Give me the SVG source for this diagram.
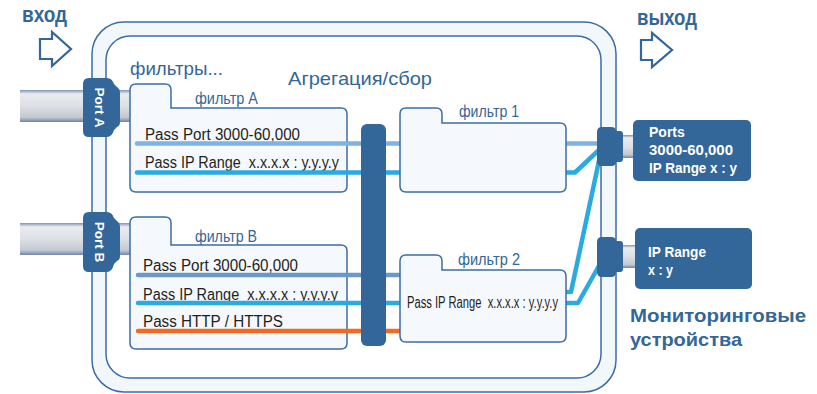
<svg xmlns="http://www.w3.org/2000/svg" width="817" height="394" viewBox="0 0 817 394">
<defs>
<linearGradient id="cable" x1="0" y1="0" x2="0" y2="1">
<stop offset="0" stop-color="#7d94b3"/>
<stop offset="0.12" stop-color="#e9ebef"/>
<stop offset="0.5" stop-color="#dde0e4"/>
<stop offset="0.85" stop-color="#c3c9d2"/>
<stop offset="1" stop-color="#6d86a8"/>
</linearGradient>
<style>
.lbl{font-family:"Liberation Sans",Arial,sans-serif;fill:#336699}
.pass{font-family:"Liberation Sans",Arial,sans-serif;font-size:16px;fill:#231f20;white-space:pre}
.wt{font-family:"Liberation Sans",Arial,sans-serif;font-weight:bold;fill:#fff}
.fold{fill:#f5f9fd;stroke:#3a6ea5;stroke-width:1.5}
.dk{fill:#336699}
.ln{fill:none;stroke-width:4.5;stroke-linecap:round;stroke-linejoin:round}
.arrow{fill:#fff;stroke:#336699;stroke-width:2.2;stroke-linejoin:miter}
</style>
</defs>

<g id="frame">
<rect x="92" y="22" width="524" height="370" rx="32" fill="#f2f7fc" stroke="#3a6ea5" stroke-width="1.5"/>
<rect x="106" y="36" width="495" height="342" rx="24" fill="#fff" stroke="#3a6ea5" stroke-width="1.5"/>
</g>

<g id="titles">
<text class="lbl" x="22" y="22" font-size="22" font-weight="bold" textLength="45" lengthAdjust="spacingAndGlyphs">вход</text>
<polygon class="arrow" points="40,39 52,39 52,32 71,49 52,66 52,59 40,59"/>
<text class="lbl" x="637" y="25" font-size="22" font-weight="bold" textLength="60" lengthAdjust="spacingAndGlyphs">выход</text>
<polygon class="arrow" points="641,40 652,40 652,33 672,50 652,67 652,60 641,60"/>
<text class="lbl" x="130" y="75" font-size="19" textLength="93" lengthAdjust="spacingAndGlyphs">фильтры...</text>
<text class="lbl" x="288" y="85" font-size="19" textLength="144" lengthAdjust="spacingAndGlyphs">Агрегация/сбор</text>
<text class="lbl" x="630" y="322" font-size="19" font-weight="bold" textLength="176" lengthAdjust="spacingAndGlyphs">Мониторинговые</text>
<text class="lbl" x="630" y="346" font-size="19" font-weight="bold" textLength="112" lengthAdjust="spacingAndGlyphs">устройства</text>
</g>

<g id="port-a">
<rect x="20" y="90" width="112" height="32" fill="url(#cable)"/>
<path class="dk" d="M89,78 H107 Q112,78 114,84 L117,87 Q120,89 120,93 V122 Q120,126 117,127 L114,130 Q112,137 107,137 H89 Q83,137 83,131 V84 Q83,78 89,78 Z"/>
<text class="wt" font-size="13.5" text-anchor="middle" transform="translate(94.5,107.5) rotate(90)">Port A</text>
</g>

<g id="port-b">
<rect x="20" y="223" width="112" height="32" fill="url(#cable)"/>
<path class="dk" d="M89,212 H107 Q112,212 114,218 L117,221 Q120,223 120,227 V256 Q120,260 117,261 L114,264 Q112,272 107,272 H89 Q83,272 83,266 V218 Q83,212 89,212 Z"/>
<text class="wt" font-size="13.5" text-anchor="middle" transform="translate(94.5,242) rotate(90)">Port B</text>
</g>

<g id="filter-a">
<path class="fold" d="M130,90 Q130,84 136,84 H165 Q171,84 171,90 V108 H341 Q347,108 347,114 V186 Q347,192 341,192 H136 Q130,192 130,186 Z"/>
<text class="lbl" x="195" y="104" font-size="16" textLength="63" lengthAdjust="spacingAndGlyphs">фильтр A</text>
<text class="pass" x="145" y="139.5" textLength="155" lengthAdjust="spacingAndGlyphs">Pass Port 3000-60,000</text>
<text class="pass" x="145" y="167.5" textLength="194" lengthAdjust="spacingAndGlyphs">Pass IP Range  x.x.x.x : y.y.y.y</text>
</g>

<g id="filter-b">
<path class="fold" d="M130,223 Q130,217 136,217 H165 Q171,217 171,223 V245 H341 Q347,245 347,251 V343 Q347,349 341,349 H136 Q130,349 130,343 Z"/>
<text class="lbl" x="195" y="242" font-size="16" textLength="62" lengthAdjust="spacingAndGlyphs">фильтр B</text>
<text class="pass" x="143" y="271" textLength="155" lengthAdjust="spacingAndGlyphs">Pass Port 3000-60,000</text>
<text class="pass" x="143" y="299.5" textLength="195" lengthAdjust="spacingAndGlyphs">Pass IP Range  x.x.x.x : y.y.y.y</text>
<text class="pass" x="143" y="327" textLength="140" lengthAdjust="spacingAndGlyphs">Pass HTTP / HTTPS</text>
</g>

<g id="connectors">
<path class="ln" stroke="#7fb2e5" d="M137,143.5 H401"/>
<path class="ln" stroke="#29abe2" d="M137,172.5 H401"/>
<path class="ln" stroke="#6b97c9" d="M138,275 H401"/>
<path class="ln" stroke="#29abe2" d="M138,303 H401"/>
<path class="ln" stroke="#f26a22" d="M138,331 H401"/>
<path class="ln" stroke="#7fb2e5" d="M565,143.5 H600"/>
<path class="ln" stroke="#29abe2" d="M565,172.5 H575 L600,149"/>
<path class="ln" stroke="#29abe2" d="M565,292 H571 L600,156"/>
<path class="ln" stroke="#29abe2" d="M565,303 H578 L600,264"/>
</g>

<g id="agg-bar">
<rect class="dk" x="361" y="124" width="25" height="222" rx="6"/>
</g>

<g id="filter-1">
<path class="fold" d="M400,114 Q400,108 406,108 H436 Q442,108 442,114 V123 H560 Q566,123 566,129 V186 Q566,192 560,192 H406 Q400,192 400,186 Z"/>
<text class="lbl" x="459" y="117" font-size="16" textLength="60" lengthAdjust="spacingAndGlyphs">фильтр 1</text>
</g>

<g id="filter-2">
<path class="fold" d="M400,261 Q400,255 406,255 H436 Q442,255 442,261 V270 H560 Q566,270 566,276 V336 Q566,342 560,342 H406 Q400,342 400,336 Z"/>
<text class="lbl" x="458" y="265" font-size="16" textLength="62" lengthAdjust="spacingAndGlyphs">фильтр 2</text>
<text class="pass" x="407" y="308" font-size="15" textLength="151" lengthAdjust="spacingAndGlyphs">Pass IP Range  x.x.x.x : y.y.y.y</text>
</g>

<g id="tool-1">
<rect x="621" y="135" width="13" height="23" fill="url(#cable)"/>
<path class="dk" d="M602,127 H611 Q616,127 616,131 H620 Q623,131 623,134 V159 Q623,162 620,162 H616 Q616,166 611,166 H602 Q597,166 597,161 V132 Q597,127 602,127 Z"/>
<rect class="dk" x="633" y="120" width="118" height="61" rx="5"/>
<text class="wt" x="649" y="137" font-size="14">Ports</text>
<text class="wt" x="649" y="155" font-size="14" textLength="84" lengthAdjust="spacingAndGlyphs">3000-60,000</text>
<text class="wt" x="649" y="173" font-size="14" textLength="88" lengthAdjust="spacingAndGlyphs">IP Range x : y</text>
</g>

<g id="tool-2">
<rect x="621" y="245" width="15" height="23" fill="url(#cable)"/>
<path class="dk" d="M602,237 H611 Q616,237 616,241 H620 Q623,241 623,244 V269 Q623,272 620,272 H616 Q616,277 611,277 H602 Q597,277 597,272 V242 Q597,237 602,237 Z"/>
<rect class="dk" x="635" y="228" width="117" height="61" rx="5"/>
<text class="wt" x="648" y="257" font-size="14" textLength="58" lengthAdjust="spacingAndGlyphs">IP Range</text>
<text class="wt" x="648" y="275" font-size="14" textLength="25" lengthAdjust="spacingAndGlyphs">x : y</text>
</g>
</svg>
